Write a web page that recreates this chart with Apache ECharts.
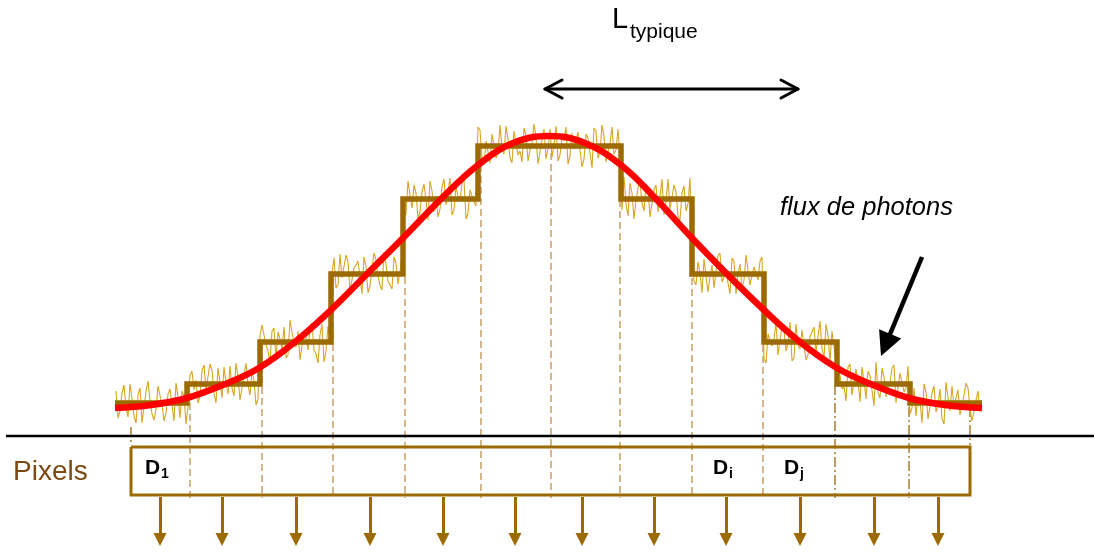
<!DOCTYPE html>
<html><head><meta charset="utf-8">
<script src="https://cdn.jsdelivr.net/npm/echarts@6/dist/echarts.min.js"></script>
<style>html,body{margin:0;padding:0;background:#fff}#c{width:1094px;height:554px}</style>
</head><body><div id="c"></div>
<script>
// x: position along the detector (diagram units), y: photon flux (0 = detector plane)
const stepEdges = [115,187,260,331,403,478,621,692,764,837,910,982];
const stepLevels = [33,52,94,162,237,290,237,162,94,52,33];
const smoothFlux = [[115,28],[151,31],[187,38],[223,51],[259,68],[295,94],[331,126],[367,162],[404,199],[441,237],[478,271],[513,293],[549,300],[585,293],[621,271],[656,237],[691,199],[727,162],[764,126],[800,94],[837,68],[873,51],[909,38],[945,31],[982,28]];
const noiseStartA = 116;
const noiseStartB = 118;
const noiseSpacing = 4;
const noiseOffsetsA = [
12,-8,18,-14,5,-20,15,-3,22,-11,
-6,16,-18,9,-2,20,-15,7,-22,13,
4,-12,19,-7,14,-19,2,17,-10,-4,
21,-16,8,-1,13,-21,6,18,-9,11,
-17,3,15,-13,23,-5,-18,10,-8,19,
-12,7,-20,16,1,-14,20,-6,12,-16,
9,-3,17,-19,5,14,-11,22,-7,-15,
11,2,-18,18,-9,6,-13,15,-21,8,
3,-10,20,-4,-16,13,-2,19,-14,10,
-7,16,-19,4,12,-12,21,-8,7,-17,
14,-5,18,-15,2,9,-20,17,-3,-11,
20,-9,5,-18,13,-1,16,-13,8,-22,
15,-6,10,-14,19,-4,-10,22,-17,6,
-2,17,-12,11,-19,14,3,-16,20,-8,
7,-21,13,-5,18,-11,1,15,-18,9,
-14,21,-3,-9,16,-20,10,-6,19,-12,
5,13,-17,8,-4,20,-15,12,-1,-19,
18,-7,14,-13,3,-10,21,-16,6,11,
-20,9,-2,17,-11,15,-18,4,13,-6,
22,-14,7,-3,16,-19,11,-8,18,-5,
-13,2,19,-16,10,-9,14,-21,5,17,
-4,-12,8,15,-18,3,-9];
const noiseOffsetsB = [
-15,10,-4,19,-13,8,-20,11,3,-17,
17,-2,-10,14,-18,6,12,-21,9,-6,
-19,13,-5,20,-9,16,-14,1,18,-12,
7,-18,21,-11,4,-15,17,-3,-20,14,
10,-7,-16,22,-2,11,-19,5,15,-8,
-21,18,-9,3,16,-11,-4,19,-17,6,
13,-20,8,-12,21,-2,-16,10,-5,17,
-10,20,-15,4,14,-19,7,-1,18,-13,
-18,12,-6,21,-11,2,16,-20,9,-3,
19,-14,5,-17,13,-8,-2,20,-12,15,
-9,-16,11,-4,22,-18,6,-13,17,1,
-15,8,19,-10,-3,14,-21,12,-7,18,
-12,21,-16,3,-8,17,-11,-5,16,-20,
11,-4,15,-18,9,-13,20,-2,-10,14,
-17,6,-12,21,-7,12,-19,16,-3,-14,
18,-8,4,-20,13,-1,-15,19,-11,7,
-6,17,-21,10,2,-13,16,-9,20,-16,
-3,12,-18,5,15,-12,-7,18,-20,9,
14,-5,-17,20,-10,3,17,-15,8,-22,
-9,16,-13,1,19,-18,12,-4,-11,15,
6,-20,11,-14,17,-2,-16,21,-8,-3,
13,-10,20,-6,-19,12];
const dividerX = [131,190,262,333,405,481,551,620,692,763,835,909,970];
const dividerTop = [9,33,93,158,159,271,283,236,158,91,51,29,29];
const dividerBottom = [-9,-62,-62,-62,-62,-62,-62,-62,-62,-62,-62,-62,-9];
const boxX = [131,970];
const boxY = [-11,-59];
const outputArrowX = [160,222,296,370,443,515,582,654,726,800,874,938];
const outputArrowY = [-61,-110];
const baselineX = [6,1094];
const typicalSpan = [545,798];
const typicalY = 347;
const fluxArrow = [[922,179],[881,80]];

const BROWN = '#9b6a00';
const levelAt = x => { for (let k = 0; k < stepLevels.length; k++) if (x < stepEdges[k+1]) return stepLevels[k]; return stepLevels[stepLevels.length-1]; };
const noiseData = [];
noiseOffsetsA.forEach((o,i) => {
  const xa = noiseStartA + i*noiseSpacing; noiseData.push([xa, levelAt(xa) + o]);
  if (i < noiseOffsetsB.length) { const xb = noiseStartB + i*noiseSpacing; noiseData.push([xb, levelAt(xb) + noiseOffsetsB[i]]); }
});
const stepData = [];
stepLevels.forEach((lv,k) => { stepData.push([stepEdges[k], lv]); stepData.push([stepEdges[k+1], lv]); });

const dashLines = dividerX.map((x,i) => {
  const dd = (i===0 || i===10 || i===11 || i===12);
  return {coords: [[x, dividerTop[i]], [x, dividerBottom[i]]],
    lineStyle: {color: dd ? '#9b6a10' : '#bf9050', width: 1.3, opacity:1, type: dd ? [10,3,2,3] : [7,4]}};
});
const headLen = 13;
const arrows = outputArrowX.map(x => ({coords: [[x, outputArrowY[0]], [x, outputArrowY[1] + headLen/2]]}));
const fdx = fluxArrow[1][0]-fluxArrow[0][0], fdy = fluxArrow[1][1]-fluxArrow[0][1], fl = Math.hypot(fdx,fdy);
const fluxHead = 24;
const fluxEnd = [fluxArrow[1][0] - fdx/fl*fluxHead/2, fluxArrow[1][1] - fdy/fl*fluxHead/2];

const font = '"Liberation Sans", Arial, sans-serif';
const txt = (x, y, text, size, extra) => ({type:'text', x, y, style: {text, font: (extra && extra.f ? extra.f + ' ' : '') + size + 'px ' + font, fill: (extra && extra.c) || '#000', align:'left', verticalAlign:'middle'}});

const chart = echarts.init(document.getElementById('c'), null, {renderer:'canvas'});
chart.setOption({
  animation: false,
  backgroundColor: '#fff',
  grid: {left:0, right:0, top:0, bottom:0},
  xAxis: {type:'value', min:0, max:1094, show:false},
  yAxis: {type:'value', min:-118, max:436, show:false},
  series: [
    {type:'lines', coordinateSystem:'cartesian2d', polyline:true, silent:true, z:1, data: dashLines},
    {type:'line', data: noiseData, symbol:'none', lineStyle:{color:'#d9a520', width:1.1}, z:2},
    {type:'line', data: stepData, symbol:'none', lineStyle:{color:BROWN, width:5.5, join:'miter'}, z:3},
    {type:'line', data: smoothFlux, smooth:0.4, symbol:'none', lineStyle:{color:'#ff0000', width:6.5}, z:4},
    {type:'lines', coordinateSystem:'cartesian2d', polyline:true, silent:true, z:5,
      lineStyle:{color:BROWN, width:3, opacity:1},
      data: [{coords: [[boxX[0],boxY[0]],[boxX[1],boxY[0]],[boxX[1],boxY[1]],[boxX[0],boxY[1]],[boxX[0],boxY[0]]]}]},
    {type:'lines', coordinateSystem:'cartesian2d', silent:true, z:5,
      symbol:['none','triangle'], symbolSize:[12, headLen],
      lineStyle:{color:BROWN, width:3, opacity:1}, data: arrows},
    {type:'lines', coordinateSystem:'cartesian2d', polyline:true, silent:true, z:5,
      lineStyle:{color:'#000', width:2.5, opacity:1},
      data: [{coords: [[baselineX[0],0],[baselineX[1],0]]}]},
    {type:'lines', coordinateSystem:'cartesian2d', polyline:true, silent:true, z:5,
      lineStyle:{color:'#000', width:3, opacity:1, cap:'round', join:'round'},
      data: [
        {coords: [[typicalSpan[0],typicalY],[typicalSpan[1],typicalY]]},
        {coords: [[typicalSpan[0]+17,typicalY+9],[typicalSpan[0],typicalY],[typicalSpan[0]+17,typicalY-9]]},
        {coords: [[typicalSpan[1]-17,typicalY+9],[typicalSpan[1],typicalY],[typicalSpan[1]-17,typicalY-9]]}
      ]},
    {type:'lines', coordinateSystem:'cartesian2d', silent:true, z:6,
      symbol:['none','triangle'], symbolSize:[19, fluxHead],
      lineStyle:{color:'#000', width:4.5, opacity:1},
      data: [{coords: [fluxArrow[0], fluxEnd]}]}
  ],
  graphic: [
    txt(13, 472, 'Pixels', 28, {c:'#7b4a12'}),
    txt(612, 20, 'L', 29),
    txt(630, 32, 'typique', 21),
    txt(780, 208, 'flux de photons', 25.5, {f:'italic'}),
    txt(145, 468, 'D', 21, {f:'bold'}),
    txt(161, 474, '1', 14, {f:'bold'}),
    txt(713, 468, 'D', 21, {f:'bold'}),
    txt(729, 474, 'i', 14, {f:'bold'}),
    txt(784, 468, 'D', 21, {f:'bold'}),
    txt(800, 474, 'j', 14, {f:'bold'})
  ]
});
</script></body></html>
